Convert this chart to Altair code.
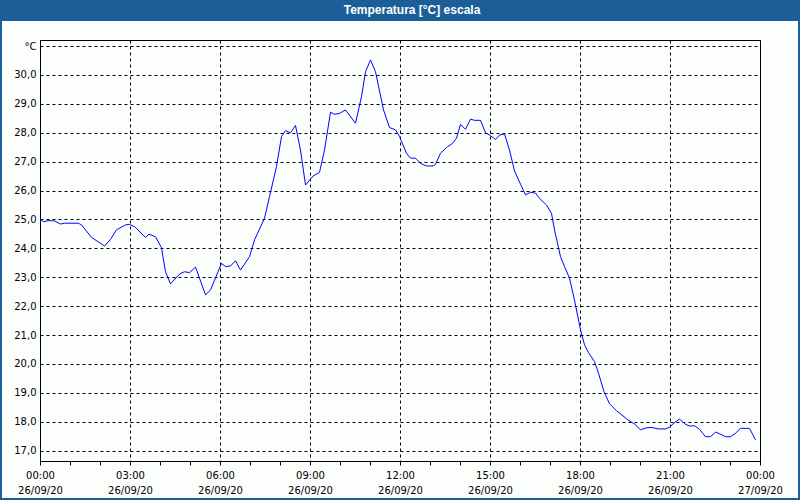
import altair as alt
import pandas as pd

# --- data (minutes after 00:00 on 26/09/20, °C) ---
minutes = [0, 8, 16, 29, 41, 49, 77, 83, 103, 129, 141, 153, 171, 179, 189, 211, 218, 231,
           243, 251, 261, 279, 289, 299, 311, 331, 341, 363, 371, 381, 391, 401, 419, 429,
           449, 459, 473, 483, 491, 501, 511, 521, 531, 546, 559, 569, 581, 589, 599, 611,
           631, 643, 651, 661, 671, 687, 699, 711, 719, 733, 741, 751, 761, 773, 786, 791,
           801, 815, 823, 833, 841, 851, 861, 869, 881, 891, 899, 911, 919, 929, 939, 949,
           961, 971, 981, 991, 999, 1013, 1023, 1029, 1041, 1049, 1059, 1069, 1081, 1089,
           1097, 1109, 1117, 1128, 1139, 1153, 1166, 1176, 1189, 1201, 1213, 1224, 1236,
           1251, 1259, 1269, 1279, 1291, 1299, 1309, 1319, 1331, 1341, 1351, 1361, 1371,
           1381, 1391, 1401, 1419, 1431]
temps = [25.00, 24.92, 24.96, 24.95, 24.84, 24.87, 24.87, 24.81, 24.38, 24.08, 24.31, 24.64,
         24.81, 24.83, 24.75, 24.38, 24.49, 24.40, 24.02, 23.19, 22.77, 23.11, 23.19, 23.16,
         23.35, 22.39, 22.56, 23.48, 23.37, 23.39, 23.57, 23.25, 23.71, 24.29, 25.04, 25.79,
         26.83, 27.87, 28.07, 28.00, 28.25, 27.40, 26.19, 26.50, 26.63, 27.40, 28.71, 28.64,
         28.67, 28.79, 28.33, 29.25, 30.11, 30.52, 30.11, 28.79, 28.18, 28.10, 27.87, 27.29,
         27.12, 27.12, 26.94, 26.85, 26.85, 26.91, 27.29, 27.52, 27.60, 27.81, 28.29, 28.12,
         28.47, 28.43, 28.43, 28.00, 27.92, 27.77, 27.92, 27.96, 27.40, 26.68, 26.22, 25.85,
         25.94, 25.91, 25.73, 25.50, 25.21, 24.64, 23.71, 23.37, 22.97, 22.21, 21.18, 20.66,
         20.39, 20.08, 19.68, 19.04, 18.62, 18.38, 18.20, 18.06, 17.92, 17.72, 17.79, 17.80,
         17.75, 17.75, 17.81, 17.97, 18.09, 17.91, 17.85, 17.86, 17.74, 17.48, 17.48, 17.64,
         17.57, 17.48, 17.48, 17.60, 17.77, 17.77, 17.37]

y_ticks = list(range(17, 32))          # 31 carries the unit label
x_ticks = list(range(0, 25))           # hourly ticks, labels every 3 h
title_text = "Temperatura [°C] escala"
date_day1 = "26/09/20"
date_day2 = "27/09/20"

df = pd.DataFrame({"hora": [m / 60 for m in minutes], "temp": temps})

FONT = "DejaVu Sans"
BLUE = "#1c5f98"

x_axis = alt.Axis(
    values=x_ticks,
    title=None,
    tickSize=4,
    tickColor="black",
    domainColor="black",
    grid=True,
    gridColor="black",
    gridDash=[3, 3],
    gridOpacity={"condition": {"test": "datum.value % 3 === 0", "value": 1}, "value": 0},
    labelExpr=(
        "datum.value % 3 === 0 ? [format(datum.value % 24, '02d') + ':00', "
        f"datum.value === 24 ? '{date_day2}' : '{date_day1}'] : ''"
    ),
    labelFont=FONT,
    labelFontSize=10,
    labelColor="black",
    labelBaseline="top",
    labelLineHeight=15,
    labelPadding=5,
    labelOverlap=False,
    labelFlush=False,
)

y_axis = alt.Axis(
    values=y_ticks,
    title=None,
    ticks=False,
    domainColor="black",
    grid=True,
    gridColor="black",
    gridDash=[3, 3],
    labelExpr="datum.value === 31 ? '°C' : replace(format(datum.value, '.1f'), '.', ',')",
    labelFont=FONT,
    labelFontSize=10,
    labelColor="black",
    labelPadding=4,
    labelOverlap=False,
    labelFlush=False,
)

one = alt.Data(values=[{}])

title_bar = alt.Chart(one).mark_rect(color=BLUE).encode(
    x=alt.value(-40), x2=alt.value(760), y=alt.value(-40), y2=alt.value(-19)
)
frame = alt.Chart(one).mark_rect(fillOpacity=0, stroke=BLUE, strokeWidth=2).encode(
    x=alt.value(-39), x2=alt.value(759), y=alt.value(-39), y2=alt.value(459)
)
title = alt.Chart(one).mark_text(
    text=title_text, color="white", font="Liberation Sans", fontWeight="bold",
    fontSize=12, align="center", baseline="middle"
).encode(x=alt.value(372), y=alt.value(-30))

line = alt.Chart(df).mark_line(color="#0000ff", strokeWidth=1).encode(
    x=alt.X("hora:Q", scale=alt.Scale(domain=[0, 24], nice=False, zero=False), axis=x_axis),
    y=alt.Y("temp:Q", scale=alt.Scale(domain=[16.64, 31.21], nice=False, zero=False), axis=y_axis),
)

chart = alt.layer(title_bar, frame, title, line).properties(
    width=720,
    height=421,
    autosize="none",
    padding={"left": 40, "top": 40, "right": 40, "bottom": 39},
    background="#fcfefc",
).configure_view(stroke="black", strokeWidth=1)

chart.save("out.html", embed_options={"renderer": "svg", "actions": False})
